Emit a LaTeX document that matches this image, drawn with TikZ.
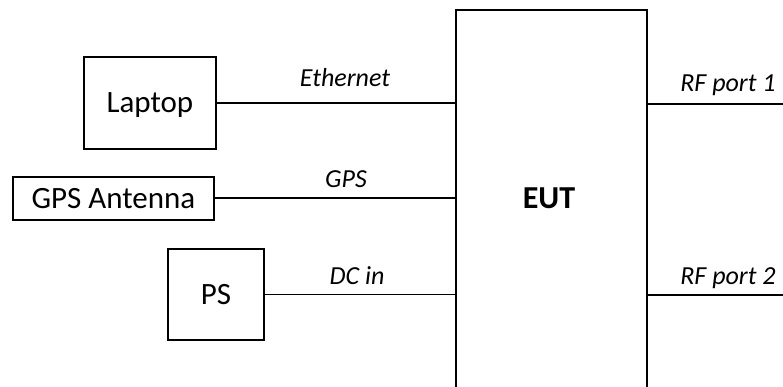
\documentclass[tikz,border=0pt]{standalone}
\usepackage{fontspec}
\setmainfont{Carlito}
\begin{document}
\begin{tikzpicture}[x=1pt,y=-1pt,
  line width=1.8pt,
  box/.style={draw, line width=1.8pt, inner sep=0pt, anchor=north west,
    font=\fontsize{31}{37}\selectfont, text height=20pt, text depth=0pt},
  lab/.style={anchor=base, inner sep=0pt, font=\fontsize{26}{31}\selectfont\itshape},
  wire/.style={line width=1.8pt}]
\clip (0,0) rectangle (783,387);
\fill[white] (0,0) rectangle (783,387);
% EUT
\node[draw, line width=1.8pt, anchor=north west, inner sep=0pt,
  minimum width=191pt, minimum height=400pt] (eut) at (454.7,9) {};
\node[font=\fontsize{32}{38}\selectfont\bfseries, anchor=base, inner sep=0pt] (eutlbl) at (549,208) {EUT};
% left boxes
\node[box, minimum width=132pt, minimum height=92pt] (laptop) at (83,56) {Laptop};
\node[box, minimum width=201pt, minimum height=43pt] (gps) at (12,176) {GPS Antenna};
\node[box, minimum width=96pt, minimum height=91pt] (ps) at (167,248) {PS};
% right ends
\coordinate (rf1) at (783,104);
\coordinate (rf2) at (783,295);
% connectors
\draw[wire] (laptop.east) -- (laptop.east -| eut.west);
\draw[wire] (gps.east) -- (gps.east -| eut.west);
\draw[wire] (ps.east) -- (ps.east -| eut.west);
\draw[wire] (rf1 -| eut.east) -- (rf1);
\draw[wire] (rf2 -| eut.east) -- (rf2);
% labels
\node[lab] (l1) at (345,86.7) {Ethernet};
\node[lab] (l2) at (346,188) {GPS};
\node[lab] (l3) at (357,284) {DC in};
\node[lab] (l4) at (728,91.7) {RF port 1};
\node[lab] (l5) at (728,284) {RF port 2};
\end{tikzpicture}
\end{document}
